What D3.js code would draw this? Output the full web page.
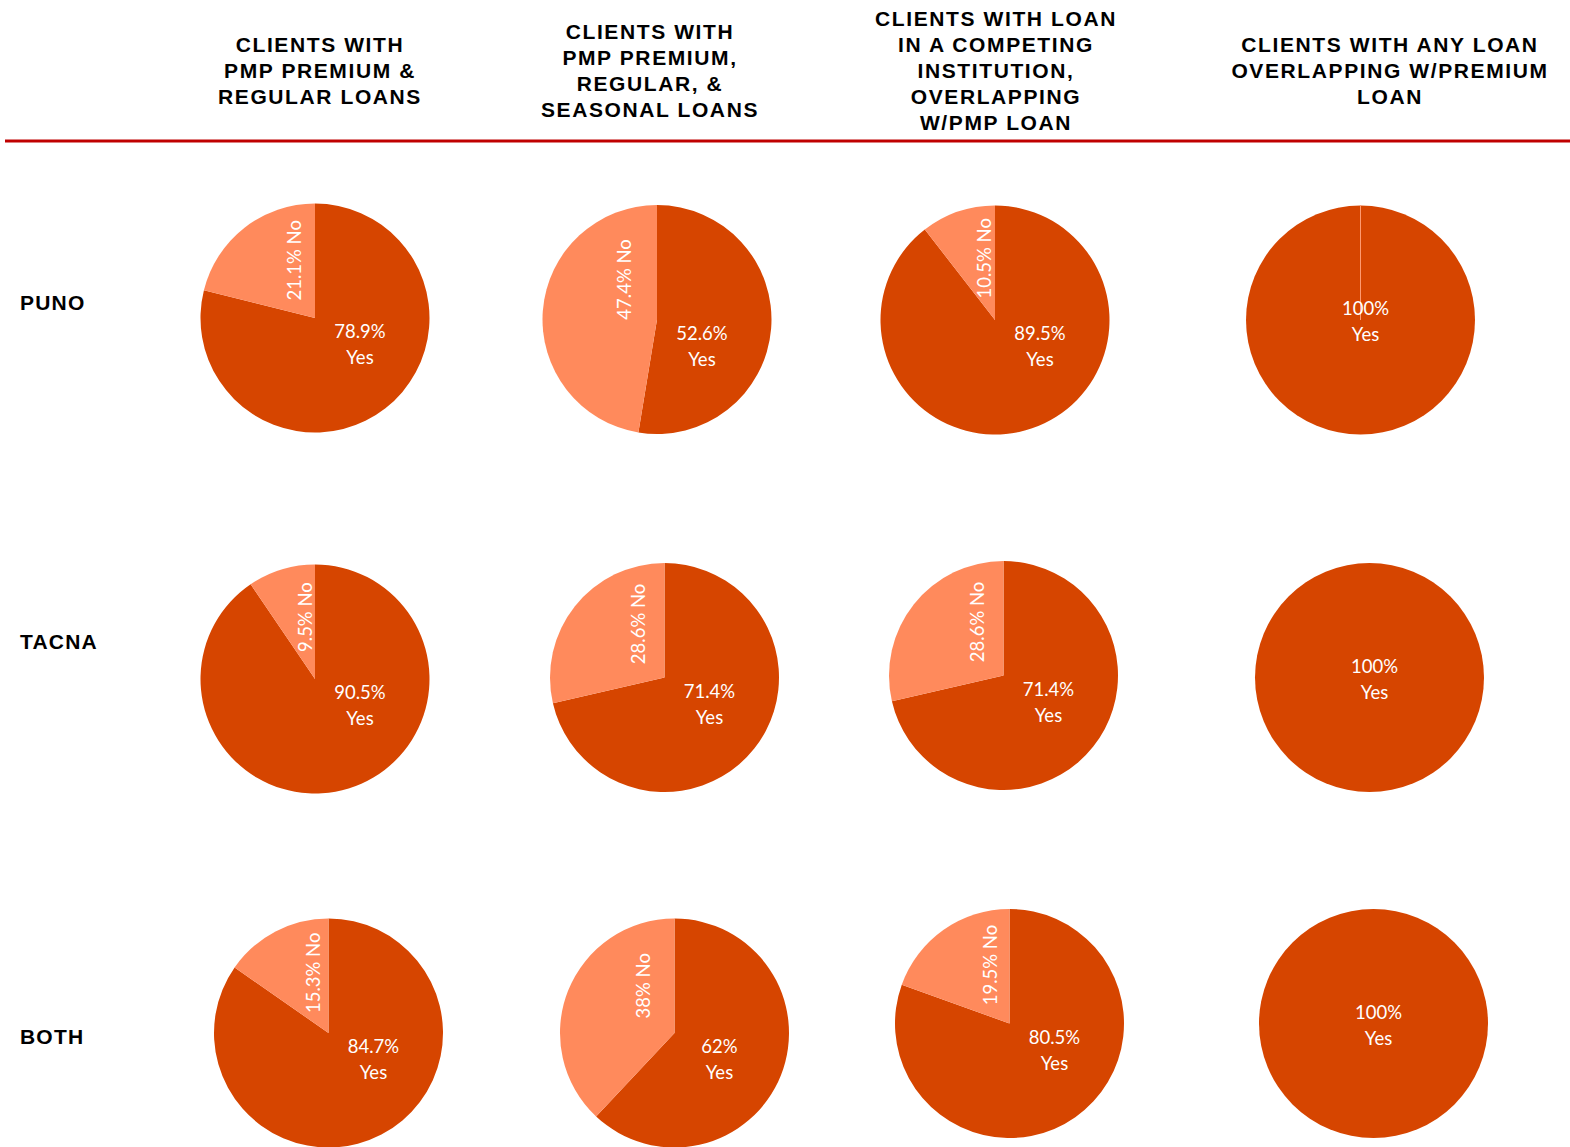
<!DOCTYPE html>
<html>
<head>
<meta charset="utf-8">
<script src="https://cdn.jsdelivr.net/npm/d3@7"></script>
<style>
  html, body { margin: 0; padding: 0; background: #ffffff; }
  svg { display: block; }
</style>
</head>
<body>
<svg id="chart" width="1570" height="1147"></svg>
<script>
// Loan-overlap shares by region (rows) and client group (columns)
const regions = ["PUNO", "TACNA", "BOTH"];
const groups = ["premiumRegular", "premiumRegularSeasonal", "competing", "anyOverlap"];
const groupTitles = [
  ["CLIENTS WITH", "PMP PREMIUM &", "REGULAR LOANS"],
  ["CLIENTS WITH", "PMP PREMIUM,", "REGULAR, &", "SEASONAL LOANS"],
  ["CLIENTS WITH LOAN", "IN A COMPETING", "INSTITUTION,", "OVERLAPPING", "W/PMP LOAN"],
  ["CLIENTS WITH ANY LOAN", "OVERLAPPING W/PREMIUM", "LOAN"]
];
// Percent answering "Yes", one array per region, in column order
const yesPuno  = [78.9, 52.6, 89.5, 100];
const yesTacna = [90.5, 71.4, 71.4, 100];
const yesBoth  = [84.7, 62, 80.5, 100];
// Percent answering "No"
const noPuno  = [21.1, 47.4, 10.5, 0];
const noTacna = [9.5, 28.6, 28.6, 0];
const noBoth  = [15.3, 38, 19.5, 0];

const yesValues = [yesPuno, yesTacna, yesBoth];
const noValues = [noPuno, noTacna, noBoth];

const W = 1570, H = 1147;
const svg = d3.select("#chart");

const colYes = "#d64500";
const colNo = "#ff8a5c";
const labelFont = "Lato, 'Open Sans', sans-serif";
const headFont = "'Liberation Sans', Arial, sans-serif";

// Layout scales: each row of pies has its own column positions
const pieX = {
  PUNO:  d3.scaleOrdinal().domain(groups).range([315, 657, 995, 1360.5]),
  TACNA: d3.scaleOrdinal().domain(groups).range([315, 664.5, 1003.5, 1369.5]),
  BOTH:  d3.scaleOrdinal().domain(groups).range([328.5, 674.5, 1009.5, 1373.5])
};
const pieY = {
  PUNO:  d3.scaleOrdinal().domain(groups).range([318, 319.5, 320, 320]),
  TACNA: d3.scaleOrdinal().domain(groups).range([679, 677.5, 675.5, 677.5]),
  BOTH:  d3.scaleOrdinal().domain(groups).range([1033, 1033, 1023.5, 1023.5])
};
const headX = d3.scaleOrdinal().domain(groups).range([320, 650, 996, 1390]);
const rowLabelY = d3.scaleOrdinal().domain(regions).range([302, 641, 1036]);
const radius = 114.5;

// Column headings
const headLine = 26;
groupTitles.forEach((lines, i) => {
  const top = 70 - (lines.length - 1) * headLine / 2;
  const t = svg.append("text")
    .attr("text-anchor", "middle")
    .attr("font-family", headFont)
    .attr("font-weight", "bold")
    .attr("font-size", 21)
    .attr("letter-spacing", "1.6px")
    .attr("fill", "#000");
  lines.forEach((ln, j) => {
    t.append("tspan")
      .attr("x", headX(groups[i]))
      .attr("y", top + j * headLine + 7.5)
      .text(ln);
  });
});

// Rule under the headings
svg.append("line")
  .attr("x1", 5).attr("x2", W)
  .attr("y1", 141).attr("y2", 141)
  .attr("stroke", "#c00000")
  .attr("stroke-width", 3);

// Row labels
regions.forEach(r => {
  svg.append("text")
    .attr("x", 20)
    .attr("y", rowLabelY(r) + 7.5)
    .attr("font-family", headFont)
    .attr("font-weight", "bold")
    .attr("font-size", 21)
    .attr("letter-spacing", "1.2px")
    .attr("fill", "#000")
    .text(r);
});

const pie = d3.pie().sort(null).value(d => d.value);
const arc = d3.arc().innerRadius(0).outerRadius(radius);

const fmt = v => (Math.round(v * 10) / 10) + "%";

regions.forEach((r, ri) => {
  groups.forEach((g, gi) => {
    const yes = yesValues[ri][gi];
    const no = noValues[ri][gi];
    const slices = pie([
      { key: "Yes", value: yes },
      { key: "No", value: no }
    ]);
    const cx = pieX[r](g), cy = pieY[r](g);
    const gp = svg.append("g").attr("transform", `translate(${cx},${cy})`);

    gp.selectAll("path")
      .data(slices)
      .join("path")
      .attr("d", arc)
      .attr("fill", d => d.data.key === "Yes" ? colYes : colNo)
      .attr("stroke", d => (d.data.key === "No" && d.data.value === 0 && ri === 0) ? "#ff9a70" : "none")
      .attr("stroke-width", 1);

    // "Yes" label: value on the first line, category on the second
    const full = no === 0;
    const lx = full ? 5 : 45;
    const ly = full ? -11 : 14;
    const yt = gp.append("text")
      .attr("text-anchor", "middle")
      .attr("font-family", labelFont)
      .attr("font-size", 18.5)
      .attr("fill", "#ffffff");
    yt.append("tspan").attr("x", lx).attr("y", ly + 6).text(fmt(yes));
    yt.append("tspan").attr("x", lx).attr("y", ly + 32).text("Yes");

    // "No" label, rotated inside its slice
    if (no > 0) {
      const theta = -Math.PI * no / 100;
      const nx = -33 * Math.abs(Math.sin(theta));
      const ny = -(38 + 25 * Math.cos(theta));
      gp.append("text")
        .attr("transform", `translate(${nx},${ny}) rotate(-90)`)
        .attr("text-anchor", "middle")
        .attr("dy", "0.35em")
        .attr("font-family", labelFont)
        .attr("font-size", 18.5)
        .attr("fill", "#ffffff")
        .text(fmt(no) + " No");
    }
  });
});
</script>
</body>
</html>
